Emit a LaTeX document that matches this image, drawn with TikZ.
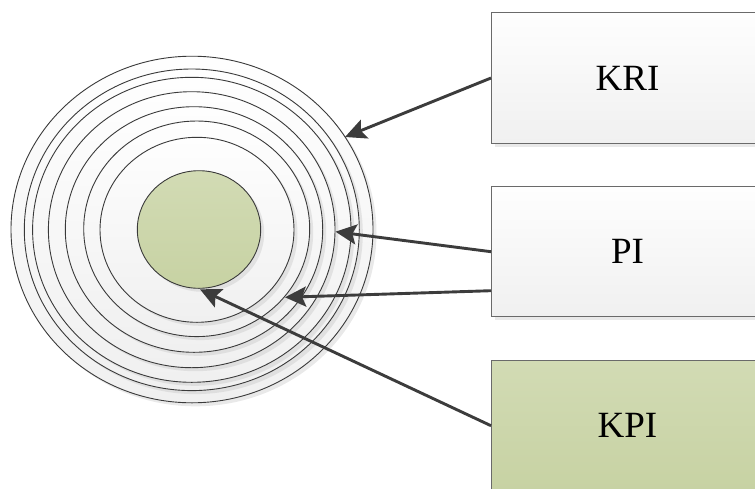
\documentclass[tikz,border=0pt]{standalone}
\usepackage{fontspec}
\setmainfont{Liberation Serif}
\usetikzlibrary{arrows.meta,shadows,calc,shapes.geometric}

\definecolor{ringline}{HTML}{3A3A3A}
\definecolor{paletop}{HTML}{FEFEFE}
\definecolor{palebot}{HTML}{F0F0F0}
\definecolor{sagetop}{HTML}{D2DBB4}
\definecolor{sagebot}{HTML}{C7D2A3}
\definecolor{boxline}{HTML}{6A6A6A}
\definecolor{arrowcol}{HTML}{3C3C3C}

\tikzset{
  softshadow/.style={drop shadow={shadow xshift=3.5pt, shadow yshift=-3.5pt,
      opacity=0.35, fill=black!25}},
  ring/.style={ellipse, draw=ringline, line width=0.9pt, inner sep=0pt,
      outer sep=0pt, top color=paletop, bottom color=palebot, softshadow},
  core/.style={ellipse, draw=ringline, line width=0.9pt, inner sep=0pt,
      outer sep=0pt, top color=sagetop, bottom color=sagebot, softshadow},
  panel/.style={rectangle, draw=boxline, line width=1pt, inner sep=0pt,
      outer sep=0pt, minimum width=273pt, minimum height=130.5pt,
      font=\fontsize{37}{40}\selectfont, softshadow},
  plainpanel/.style={panel, top color=paletop, bottom color=palebot},
  sagepanel/.style={panel, top color=sagetop, bottom color=sagebot},
  link/.style={draw=arrowcol, line width=2.9pt,
      -{Stealth[length=21pt, width=20pt, inset=4pt]}},
}

\begin{document}
\begin{tikzpicture}[x=1pt, y=-1pt]
  \useasboundingbox (0,0) rectangle (755,488);
  \clip (0,0) rectangle (755,488);

  % concentric rings, outermost first
  \node[ring, minimum width=362pt,   minimum height=346.6pt] (r7) at (192,229.5) {};
  \node[ring, minimum width=335pt,   minimum height=321.6pt] (r6) at (191.8,229.8) {};
  \node[ring, minimum width=318.4pt, minimum height=305pt]   (r5) at (191.8,229.8) {};
  \node[ring, minimum width=286.6pt, minimum height=276pt]   (r4) at (191.7,229.7) {};
  \node[ring, minimum width=257.4pt, minimum height=245.6pt] (r3) at (194,229.5) {};
  \node[ring, minimum width=226pt,   minimum height=215.6pt] (r2) at (196.7,228.8) {};
  \node[ring, minimum width=194pt,   minimum height=185pt]   (r1) at (197,229.8) {};

  % core
  \node[core, minimum width=123.4pt, minimum height=117.6pt] (core) at (199,229.5) {};

  % indicator panels
  \node[plainpanel] (kri) at (627.5,78) {KRI};
  \node[plainpanel] (pi)  at (627.5,251.7) {PI};
  \node[sagepanel]  (kpi) at (627.5,425.7) {KPI};

  % arrow targets on the rings and the core
  \coordinate (tkri) at (345,137);
  \coordinate (tpia) at (335.5,231.7);
  \coordinate (tpib) at (285,297.3);
  \coordinate (tkpi) at (200,289.3);
  \coordinate (spib) at ($(pi.west)+(0,39)$);

  \draw[link] (kri.west) -- (tkri);
  \draw[link] (pi.west)  -- (tpia);
  \draw[link] (spib)     -- (tpib);
  \draw[link] (kpi.west) -- (tkpi);
\end{tikzpicture}
\end{document}
